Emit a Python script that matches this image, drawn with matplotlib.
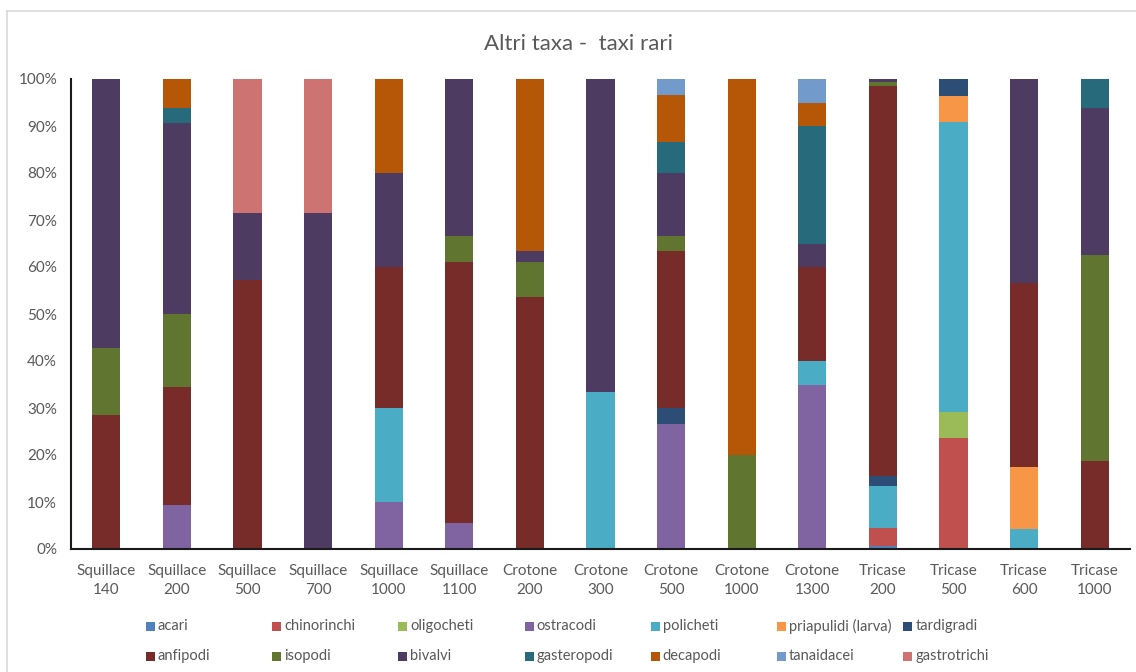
import matplotlib
matplotlib.use("Agg")
import matplotlib.pyplot as plt
import numpy as np
from matplotlib.patches import Rectangle
from matplotlib.lines import Line2D

plt.rcParams['font.family'] = ['Lato', 'DejaVu Sans']

categories = ["Squillace\n140", "Squillace\n200", "Squillace\n500", "Squillace\n700",
              "Squillace\n1000", "Squillace\n1100", "Crotone\n200", "Crotone\n300",
              "Crotone\n500", "Crotone\n1000", "Crotone\n1300", "Tricase\n200",
              "Tricase\n500", "Tricase\n600", "Tricase\n1000"]

series_names = ["acari", "chinorinchi", "oligocheti", "ostracodi", "policheti",
                "priapulidi (larva)", "tardigradi", "anfipodi", "isopodi", "bivalvi",
                "gasteropodi", "decapodi", "tanaidacei", "gastrotrichi"]

# counts per station (each column normalised to 100%)
acari        = [0, 0, 0, 0, 0, 0, 0, 0, 0, 0, 0, 1, 0, 0, 0]
chinorinchi  = [0, 0, 0, 0, 0, 0, 0, 0, 0, 0, 0, 5, 13, 0, 0]
oligocheti   = [0, 0, 0, 0, 0, 0, 0, 0, 0, 0, 0, 0, 3, 0, 0]
ostracodi    = [0, 3, 0, 0, 1, 1, 0, 0, 8, 0, 7, 0, 0, 0, 0]
policheti    = [0, 0, 0, 0, 2, 0, 0, 1, 0, 0, 1, 12, 34, 1, 0]
priapulidi   = [0, 0, 0, 0, 0, 0, 0, 0, 0, 0, 0, 0, 3, 3, 0]
tardigradi   = [0, 0, 0, 0, 0, 0, 0, 0, 1, 0, 0, 3, 2, 0, 0]
anfipodi     = [2, 8, 4, 0, 3, 10, 22, 0, 10, 0, 4, 112, 0, 9, 3]
isopodi      = [1, 5, 0, 0, 0, 1, 3, 0, 1, 1, 0, 1, 0, 0, 7]
bivalvi      = [4, 13, 1, 5, 2, 6, 1, 2, 4, 0, 1, 1, 0, 10, 5]
gasteropodi  = [0, 1, 0, 0, 0, 0, 0, 0, 2, 0, 5, 0, 0, 0, 1]
decapodi     = [0, 2, 0, 0, 2, 0, 15, 0, 3, 4, 1, 0, 0, 0, 0]
tanaidacei   = [0, 0, 0, 0, 0, 0, 0, 0, 1, 0, 1, 0, 0, 0, 0]
gastrotrichi = [0, 0, 2, 2, 0, 0, 0, 0, 0, 0, 0, 0, 0, 0, 0]

series_values = [acari, chinorinchi, oligocheti, ostracodi, policheti, priapulidi,
                 tardigradi, anfipodi, isopodi, bivalvi, gasteropodi, decapodi,
                 tanaidacei, gastrotrichi]

colors = ["#4F81BD", "#C0504D", "#9BBB59", "#8064A2", "#4BACC6", "#F79646",
          "#2C4D75", "#772C2A", "#5F7530", "#4D3B62", "#276A7C", "#B65708",
          "#729ACA", "#CD7371"]

data = np.array(series_values, dtype=float)
totals = data.sum(axis=0)
pct = data / totals * 100.0

W, H = 1136, 672
fig = plt.figure(figsize=(W / 100, H / 100), dpi=100)
ax = fig.add_axes([71 / W, 1 - 549 / H, (1130 - 71) / W, (549 - 79) / H])

x = np.arange(len(categories))
bottom = np.zeros(len(categories))
for vals, c, name in zip(pct, colors, series_names):
    ax.bar(x, vals, bottom=bottom, width=0.4, color=c, label=name, linewidth=0)
    bottom += vals

ax.set_xlim(-0.5, len(categories) - 0.5)
ax.set_ylim(0, 100)
ax.set_yticks(np.arange(0, 101, 10))
ax.set_yticklabels([f"{v}%" for v in range(0, 101, 10)])
ax.set_xticks(x)
ax.set_xticklabels(categories, linespacing=1.45)
ax.tick_params(axis='both', length=0, labelsize=11, colors="#595959")
ax.tick_params(axis='y', pad=10)
ax.tick_params(axis='x', pad=11)
for s in ['top', 'right']:
    ax.spines[s].set_visible(False)
for s in ['left', 'bottom']:
    ax.spines[s].set_color("#1a1a1a")
    ax.spines[s].set_linewidth(1.5)

fig.text(578 / W, 1 - 44 / H, "Altri taxa -  taxi rari", ha='center', va='center',
         fontsize=16, color="#595959")

# chart-area border
fig.add_artist(Line2D([7 / W, 7 / W], [1 - 11 / H, -0.1], transform=fig.transFigure,
                      color="#D9D9D9", linewidth=1.2))
fig.add_artist(Line2D([7 / W, 1.1], [1 - 11 / H, 1 - 11 / H], transform=fig.transFigure,
                      color="#D9D9D9", linewidth=1.2))

# legend (uniform columns, as in the original)
col_x0, col_dx = 146, 126.2
row_y = [626, 656]
for i, (name, c) in enumerate(zip(series_names, colors)):
    r, col = divmod(i, 7)
    mx = col_x0 + col * col_dx
    my = row_y[r]
    fig.add_artist(Rectangle((mx / W, 1 - (my + 4.5) / H), 9 / W, 9 / H,
                             transform=fig.transFigure, facecolor=c, edgecolor='none'))
    fig.text((mx + 12) / W, 1 - my / H, name, ha='left', va='center',
             fontsize=10.5, color="#595959")

fig.savefig("out.png", dpi=100)
